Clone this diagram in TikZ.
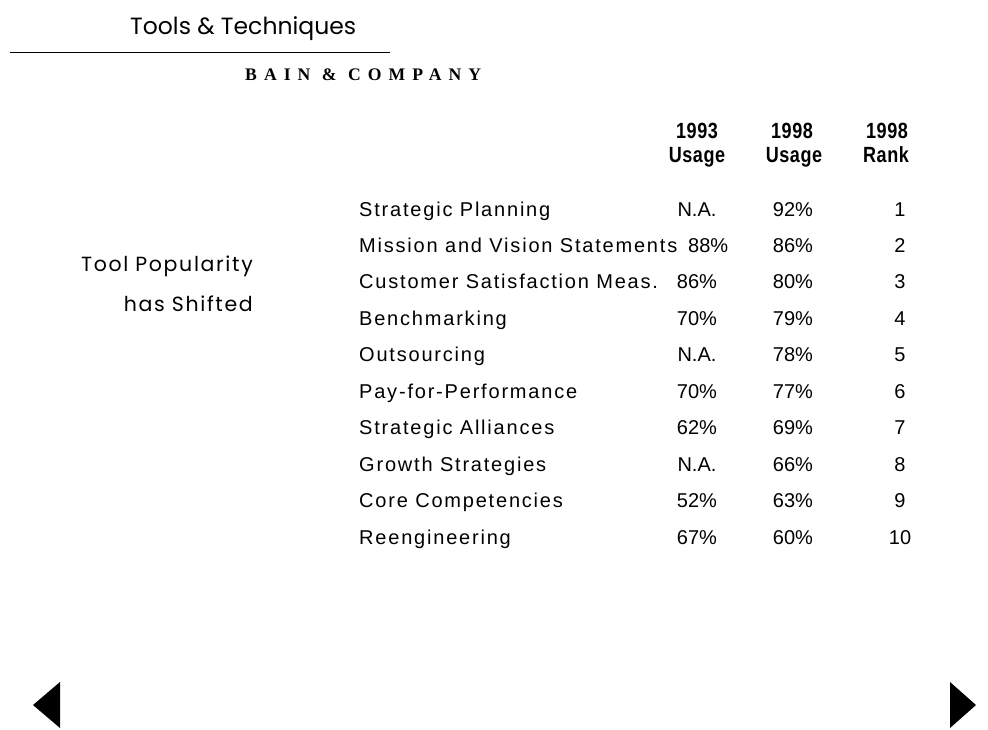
\documentclass[tikz,border=0pt]{standalone}
\usepackage{fontspec}
\setmainfont{Liberation Sans}
\newfontfamily\titlefont{Poppins}
\newfontfamily\bodyfont[LetterSpace=9]{Liberation Sans}
\newfontfamily\valfont{Liberation Sans}
\newfontfamily\headfont[LetterSpace=3]{Liberation Sans}
\newfontfamily\sidefont[LetterSpace=8]{Poppins}
\newfontfamily\bainfont[LetterSpace=40]{Liberation Serif}
\newcommand{\hsq}[1]{\scalebox{0.82}[1]{#1}}
\begin{document}
\begin{tikzpicture}[x=1pt,y=-1pt,
  tool/.style={inner sep=0pt,anchor=base west,font=\bodyfont\fontsize{20}{24}\selectfont},
  val/.style={inner sep=0pt,anchor=base,font=\valfont\fontsize{20}{24}\selectfont},
  head/.style={inner sep=0pt,anchor=base,font=\headfont\fontsize{22}{26}\selectfont\bfseries},
  side/.style={inner sep=0pt,anchor=base east,font=\sidefont\fontsize{20.5}{24}\selectfont},
  navtri/.style={fill=black,draw=none}]
\useasboundingbox (0,0) rectangle (988,729);
\node[inner sep=0pt,anchor=base west,font=\titlefont\fontsize{23.5}{28}\selectfont] (title) at (130,34) {Tools \& Techniques};
\coordinate (ruleL) at (10,52);
\coordinate (ruleR) at (390,52);
\draw[line width=1pt] (ruleL) -- (ruleR);
\node[inner sep=0pt,anchor=base west] (bain) at (245,80) {\resizebox{236pt}{!}{\bainfont\bfseries BAIN \& COMPANY}};
% headers
\node[head] (h1a) at (697,138) {\hsq{1993}};
\node[head] (h1b) at (697,162) {\hsq{Usage}};
\node[head] (h2a) at (792,138) {\hsq{1998}};
\node[head] (h2b) at (794,162) {\hsq{Usage}};
\node[head] (h3a) at (887,138) {\hsq{1998}};
\node[head] (h3b) at (886,162) {\hsq{Rank}};
% side
\node[side] (s1) at (253,271) {Tool Popularity};
\node[side] (s2) at (253,311) {has Shifted};
% rows
\foreach \i/\name/\a/\b/\r in {
  0/Strategic Planning/N.A./92\%/1,
  2/Customer Satisfaction Meas./86\%/80\%/3,
  3/Benchmarking/70\%/79\%/4,
  4/Outsourcing/N.A./78\%/5,
  5/Pay-for-Performance/70\%/77\%/6,
  6/Strategic Alliances/62\%/69\%/7,
  7/Growth Strategies/N.A./66\%/8,
  8/Core Competencies/52\%/63\%/9,
  9/Reengineering/67\%/60\%/10}{
  \node[tool] (t\i) at (359,{216+36.45*\i}) {\name};
  \node[val] (a\i) at (697,{216+36.45*\i}) {\a};
  \node[val] (b\i) at (793,{216+36.45*\i}) {\b};
  \node[val] (r\i) at (900,{216+36.45*\i}) {\r};
}
\node[tool] (t1) at (359,252.45) {Mission and Vision Statements};
\node[val,anchor=base west] (a1) at (688,252.45) {88\%};
\node[val] (b1) at (793,252.45) {86\%};
\node[val] (r1) at (900,252.45) {2};
% navigation
\fill[navtri] (33,705) -- (60,682) -- (60,728) -- cycle;
\fill[navtri] (976,705) -- (950,682) -- (950,728) -- cycle;
\end{tikzpicture}
\end{document}
